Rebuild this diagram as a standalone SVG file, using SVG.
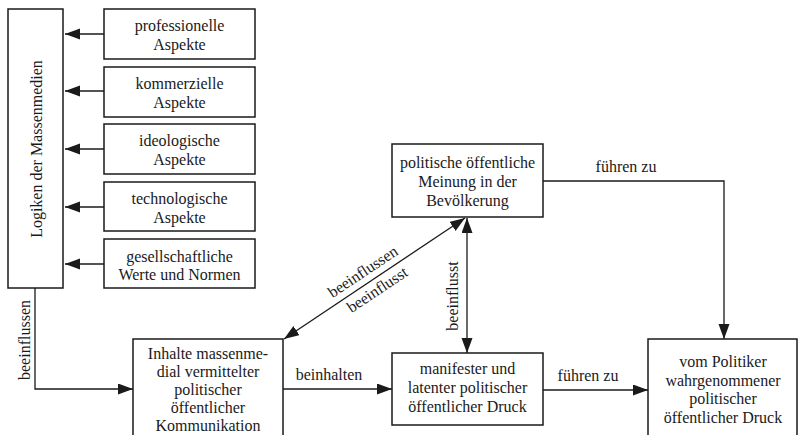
<svg xmlns="http://www.w3.org/2000/svg" width="798" height="435" viewBox="0 0 798 435">
<style>
.box{fill:#fff;stroke:#1a1a1a;stroke-width:1.5}
.ln{fill:none;stroke:#1a1a1a;stroke-width:1.3}
text{font-family:"Liberation Serif","Times New Roman",serif;font-size:16px;fill:#1a1a1a;text-anchor:middle}
</style>
<defs>
<marker id="ah" markerUnits="userSpaceOnUse" markerWidth="16" markerHeight="12" refX="15" refY="5.5" orient="auto">
<path d="M0,0 L15,5.5 L0,11 z" fill="#1a1a1a"/>
</marker>
<marker id="ahs" markerUnits="userSpaceOnUse" markerWidth="16" markerHeight="12" refX="15" refY="5.5" orient="auto-start-reverse">
<path d="M0,0 L15,5.5 L0,11 z" fill="#1a1a1a"/>
</marker>
</defs>
<g id="connectors">
<line class="ln" x1="104" y1="34" x2="65" y2="34" marker-end="url(#ah)"/>
<line class="ln" x1="104" y1="91" x2="65" y2="91" marker-end="url(#ah)"/>
<line class="ln" x1="104" y1="149" x2="65" y2="149" marker-end="url(#ah)"/>
<line class="ln" x1="104" y1="207" x2="65" y2="207" marker-end="url(#ah)"/>
<line class="ln" x1="104" y1="264" x2="65" y2="264" marker-end="url(#ah)"/>
<path class="ln" d="M35,288 V389 H133" marker-end="url(#ah)"/>
<text transform="translate(30,340) rotate(-90)">beeinflussen</text>
<line class="ln" x1="283" y1="389" x2="392" y2="389" marker-end="url(#ah)"/>
<text x="329" y="380">beinhalten</text>
<line class="ln" x1="543" y1="390" x2="648" y2="390" marker-end="url(#ah)"/>
<text x="588" y="381">führen zu</text>
<path class="ln" d="M543,181 H724 V339" marker-end="url(#ah)"/>
<text x="626" y="172">führen zu</text>
<line class="ln" x1="467" y1="218" x2="467" y2="353" marker-start="url(#ahs)" marker-end="url(#ah)"/>
<text transform="translate(458,296) rotate(-90)">beeinflusst</text>
<line class="ln" x1="284" y1="339" x2="465" y2="218" marker-start="url(#ahs)" marker-end="url(#ah)"/>
<g transform="translate(284,339) rotate(-33.7)">
<text x="103" y="-7">beeinflussen</text>
<text x="105" y="16">beeinflusst</text>
</g>
</g>
<g id="logiken">
<rect class="box" x="8" y="9" width="55" height="279"/>
<text transform="translate(42,149) rotate(-90)">Logiken der Massenmedien</text>
</g>
<g id="professionelle">
<rect class="box" x="104" y="9" width="151" height="50"/>
<text x="179.5" y="31">professionelle</text>
<text x="179.5" y="50">Aspekte</text>
</g>
<g id="kommerzielle">
<rect class="box" x="104" y="67" width="151" height="50"/>
<text x="179.5" y="89">kommerzielle</text>
<text x="179.5" y="108">Aspekte</text>
</g>
<g id="ideologische">
<rect class="box" x="104" y="124" width="151" height="50"/>
<text x="179.5" y="146">ideologische</text>
<text x="179.5" y="165">Aspekte</text>
</g>
<g id="technologische">
<rect class="box" x="104" y="182" width="151" height="49"/>
<text x="179.5" y="204">technologische</text>
<text x="179.5" y="223">Aspekte</text>
</g>
<g id="gesellschaftliche">
<rect class="box" x="104" y="239" width="151" height="49"/>
<text x="179.5" y="262">gesellschaftliche</text>
<text x="179.5" y="280">Werte und Normen</text>
</g>
<g id="inhalte">
<rect class="box" x="133" y="339" width="150" height="110"/>
<text x="208" y="359">Inhalte massenme-</text>
<text x="208" y="377">dial vermittelter</text>
<text x="208" y="395">politischer</text>
<text x="208" y="413">öffentlicher</text>
<text x="208" y="431">Kommunikation</text>
</g>
<g id="meinung">
<rect class="box" x="392" y="144" width="151" height="73"/>
<text x="467.5" y="168">politische öffentliche</text>
<text x="467.5" y="187">Meinung in der</text>
<text x="467.5" y="206">Bevölkerung</text>
</g>
<g id="druck">
<rect class="box" x="392" y="353" width="151" height="72"/>
<text x="467.5" y="374">manifester und</text>
<text x="467.5" y="393">latenter politischer</text>
<text x="467.5" y="412">öffentlicher Druck</text>
</g>
<g id="wahrgenommen">
<rect class="box" x="648" y="339" width="149" height="110"/>
<text x="723" y="367">vom Politiker</text>
<text x="723" y="385.5">wahrgenommener</text>
<text x="723" y="404">politischer</text>
<text x="723" y="422.5">öffentlicher Druck</text>
</g>
</svg>
